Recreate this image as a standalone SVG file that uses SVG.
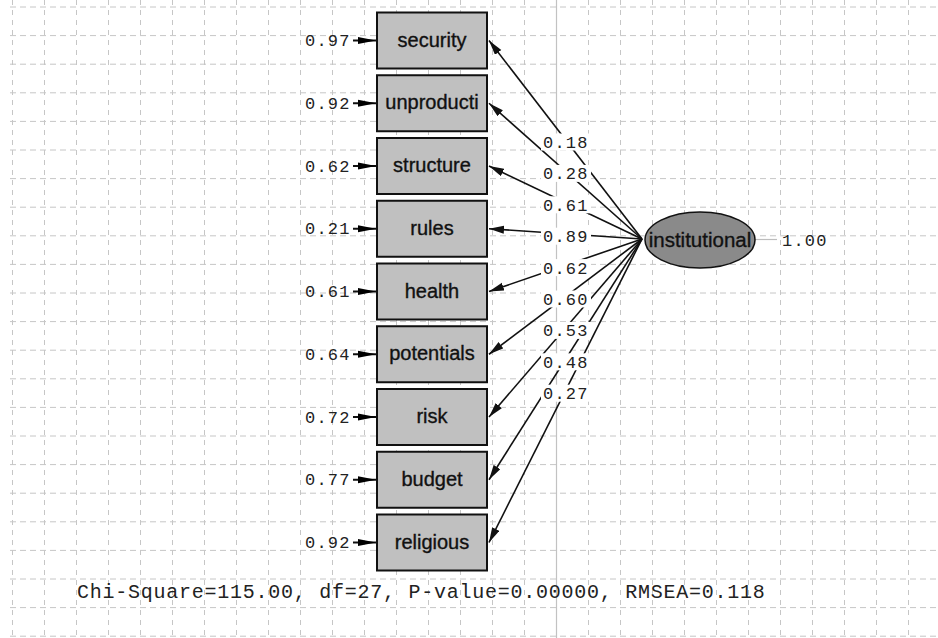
<svg xmlns="http://www.w3.org/2000/svg" width="938" height="638" viewBox="0 0 938 638">
  <style>
    .gridh { stroke: #c6c6c6; stroke-width: 1; stroke-dasharray: 6 4; fill: none; }
    .gridv { stroke: #c6c6c6; stroke-width: 1; stroke-dasharray: 5 5; fill: none; }
    .page { stroke: #c2c2c2; stroke-width: 1.2; fill: none; }
    .box { fill: #c0c0c0; stroke: #111; stroke-width: 2; }
    .lat { fill: #8a8a8a; stroke: #111; stroke-width: 1.5; }
    .name { font-family: "Liberation Sans", Arial, sans-serif; font-size: 20px; fill: #111; stroke: #111; stroke-width: 0.35; text-anchor: middle; }
    .num { font-family: "Liberation Mono", "Courier New", monospace; font-size: 17px; fill: #222; letter-spacing: 1.2px; }
    .fit { font-family: "Liberation Mono", "Courier New", monospace; font-size: 20px; fill: #222; letter-spacing: 0.75px; }
    .path { stroke: #111; stroke-width: 1.6; fill: none; marker-end: url(#tip); }
    .err { stroke: #111; stroke-width: 2; }
    .lbg { fill: #fff; }
  </style>
  <defs>
    <marker id="tip" markerUnits="userSpaceOnUse" markerWidth="17" markerHeight="9" refX="15" refY="4" orient="auto">
      <path d="M0,0 L15,4 L0,8 Z" fill="#111"/>
    </marker>
  </defs>

  <rect width="938" height="638" fill="#fff"/>

  <!-- background grid -->
  <g id="grid">
    <path class="gridv" d="M12.5 0V638M44.5 0V638M76.5 0V638M108.5 0V638M140.5 0V638M172.5 0V638M204.5 0V638M236.5 0V638M268.5 0V638M300.5 0V638M332.5 0V638M364.5 0V638M396.5 0V638M428.5 0V638M460.5 0V638M492.5 0V638M524.5 0V638M588.5 0V638M620.5 0V638M652.5 0V638M684.5 0V638M716.5 0V638M748.5 0V638M780.5 0V638M812.5 0V638M844.5 0V638M876.5 0V638M908.5 0V638"/>
    <path class="gridh" d="M10 7H938M10 35.6H938M10 64.2H938M10 92.8H938M10 121.4H938M10 150H938M10 178.6H938M10 207.2H938M10 235.8H938M10 264.4H938M10 293H938M10 321.6H938M10 350.2H938M10 378.8H938M10 407.4H938M10 436H938M10 464.6H938M10 493.2H938M10 521.8H938M10 550.4H938M10 579H938M10 607.6H938M10 636.2H938"/>
    <path class="page" d="M556.5 0V638"/>
  </g>

  <!-- loadings from the latent variable -->
  <g id="connectors">
    <line class="path" x1="642" y1="239" x2="489" y2="40.5"/>
    <line class="path" x1="642" y1="239" x2="489" y2="103.25"/>
    <line class="path" x1="642" y1="239" x2="489" y2="166"/>
    <line class="path" x1="642" y1="239" x2="489" y2="228.75"/>
    <line class="path" x1="642" y1="239" x2="489" y2="291.5"/>
    <line class="path" x1="642" y1="239" x2="489" y2="354.25"/>
    <line class="path" x1="642" y1="239" x2="489" y2="417"/>
    <line class="path" x1="642" y1="239" x2="489" y2="479.75"/>
    <line class="path" x1="642" y1="239" x2="489" y2="542.5"/>
    <line x1="755" y1="239.5" x2="777" y2="239.5" stroke="#bdbdbd" stroke-width="1.2"/>
    <!-- error terms -->
    <g id="errors">
      <line class="err" x1="353" y1="40.5" x2="377" y2="40.5"/><path d="M358 37L376 40.5L358 44Z"/>
      <line class="err" x1="353" y1="103.25" x2="377" y2="103.25"/><path d="M358 99.75L376 103.25L358 106.75Z"/>
      <line class="err" x1="353" y1="166" x2="377" y2="166"/><path d="M358 162.5L376 166L358 169.5Z"/>
      <line class="err" x1="353" y1="228.75" x2="377" y2="228.75"/><path d="M358 225.25L376 228.75L358 232.25Z"/>
      <line class="err" x1="353" y1="291.5" x2="377" y2="291.5"/><path d="M358 288L376 291.5L358 295Z"/>
      <line class="err" x1="353" y1="354.25" x2="377" y2="354.25"/><path d="M358 350.75L376 354.25L358 357.75Z"/>
      <line class="err" x1="353" y1="417" x2="377" y2="417"/><path d="M358 413.5L376 417L358 420.5Z"/>
      <line class="err" x1="353" y1="479.75" x2="377" y2="479.75"/><path d="M358 476.25L376 479.75L358 483.25Z"/>
      <line class="err" x1="353" y1="542.5" x2="377" y2="542.5"/><path d="M358 539L376 542.5L358 546Z"/>
    </g>
  </g>

  <!-- loading values on white plates -->
  <g id="loadings">
    <rect class="lbg" x="541" y="133.5" width="50" height="17"/><text class="num" x="543" y="148">0.18</text>
    <rect class="lbg" x="541" y="164.9" width="50" height="17"/><text class="num" x="543" y="179.4">0.28</text>
    <rect class="lbg" x="541" y="196.3" width="50" height="17"/><text class="num" x="543" y="210.8">0.61</text>
    <rect class="lbg" x="541" y="227.7" width="50" height="17"/><text class="num" x="543" y="242.2">0.89</text>
    <rect class="lbg" x="541" y="259.1" width="50" height="17"/><text class="num" x="543" y="273.6">0.62</text>
    <rect class="lbg" x="541" y="290.5" width="50" height="17"/><text class="num" x="543" y="305">0.60</text>
    <rect class="lbg" x="541" y="321.9" width="50" height="17"/><text class="num" x="543" y="336.4">0.53</text>
    <rect class="lbg" x="541" y="353.3" width="50" height="17"/><text class="num" x="543" y="367.8">0.48</text>
    <rect class="lbg" x="541" y="384.7" width="50" height="17"/><text class="num" x="543" y="399.2">0.27</text>
  </g>

  <!-- error variances -->
  <g id="variances">
    <text class="num" x="305" y="46">0.97</text>
    <text class="num" x="305" y="108.75">0.92</text>
    <text class="num" x="305" y="171.5">0.62</text>
    <text class="num" x="305" y="234.25">0.21</text>
    <text class="num" x="305" y="297">0.61</text>
    <text class="num" x="305" y="359.75">0.64</text>
    <text class="num" x="305" y="422.5">0.72</text>
    <text class="num" x="305" y="485.25">0.77</text>
    <text class="num" x="305" y="548">0.92</text>
  </g>

  <!-- observed indicators -->
  <g id="security"><rect class="box" x="377" y="12.5" width="110" height="56"/><text class="name" x="432" y="46.5">security</text></g>
  <g id="unproducti"><rect class="box" x="377" y="75.25" width="110" height="56"/><text class="name" x="432" y="109.25">unproducti</text></g>
  <g id="structure"><rect class="box" x="377" y="138" width="110" height="56"/><text class="name" x="432" y="172">structure</text></g>
  <g id="rules"><rect class="box" x="377" y="200.75" width="110" height="56"/><text class="name" x="432" y="234.75">rules</text></g>
  <g id="health"><rect class="box" x="377" y="263.5" width="110" height="56"/><text class="name" x="432" y="297.5">health</text></g>
  <g id="potentials"><rect class="box" x="377" y="326.25" width="110" height="56"/><text class="name" x="432" y="360.25">potentials</text></g>
  <g id="risk"><rect class="box" x="377" y="389" width="110" height="56"/><text class="name" x="432" y="423">risk</text></g>
  <g id="budget"><rect class="box" x="377" y="451.75" width="110" height="56"/><text class="name" x="432" y="485.75">budget</text></g>
  <g id="religious"><rect class="box" x="377" y="514.5" width="110" height="56"/><text class="name" x="432" y="548.5">religious</text></g>

  <!-- latent variable -->
  <g id="institutional">
    <ellipse class="lat" cx="700" cy="240" rx="55" ry="28"/>
    <text class="name" x="700" y="247" style="font-size:20.5px">institutional</text>
    <text class="num" x="782" y="246">1.00</text>
  </g>

  <!-- fit statistics -->
  <text class="fit" x="77" y="598">Chi-Square=115.00, df=27, P-value=0.00000, RMSEA=0.118</text>
</svg>
